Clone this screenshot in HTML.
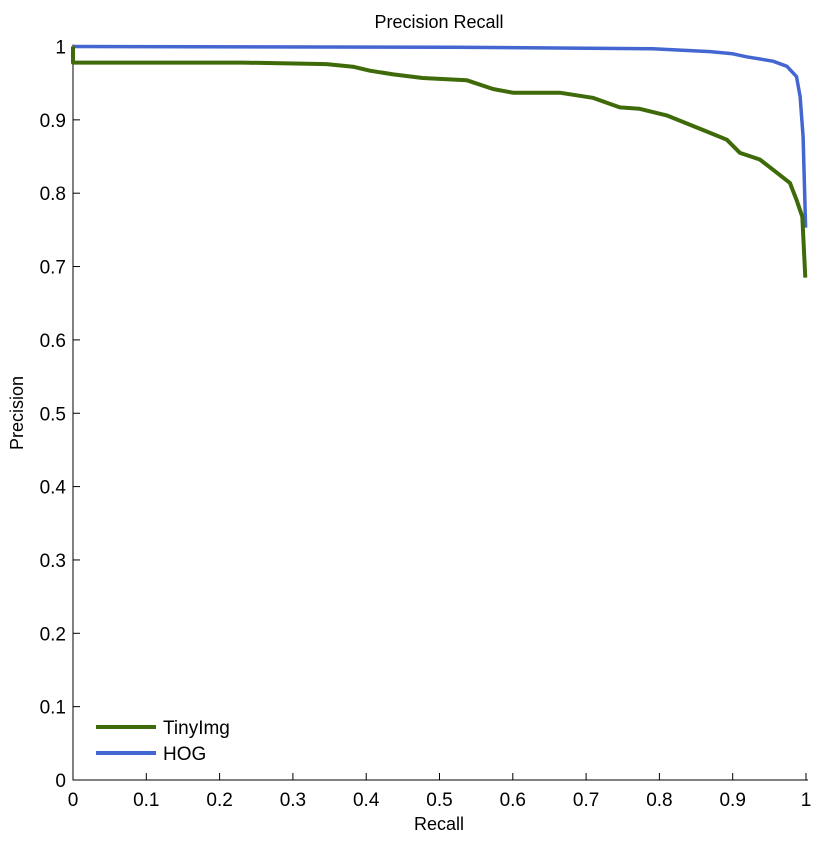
<!DOCTYPE html>
<html><head><meta charset="utf-8"><style>
body{margin:0;background:#fff;}
svg text{font-family:"Liberation Sans",Helvetica,sans-serif;fill:#000;}
</style></head><body>
<svg id="chart" width="820" height="839" viewBox="0 0 820 839" xmlns="http://www.w3.org/2000/svg">
<text x="439" y="28" font-size="18" text-anchor="middle">Precision Recall</text>
<text x="439" y="830" font-size="18" text-anchor="middle">Recall</text>
<text transform="translate(23,413) rotate(-90)" font-size="18" text-anchor="middle">Precision</text>
<g id="axes"></g>
<g id="series"></g>
<g id="legend"></g>
</svg>
<script>
const xTicks=[0,0.1,0.2,0.3,0.4,0.5,0.6,0.7,0.8,0.9,1];
const yTicks=[0,0.1,0.2,0.3,0.4,0.5,0.6,0.7,0.8,0.9,1];
const tinyRecall=[0,0,0.232,0.346,0.382,0.405,0.437,0.477,0.537,0.573,0.6,0.664,0.709,0.746,0.773,0.81,0.865,0.892,0.91,0.937,0.955,0.978,0.987,0.995,0.999];
const tinyPrec=[1,0.978,0.978,0.976,0.9725,0.967,0.962,0.957,0.954,0.942,0.937,0.937,0.93,0.917,0.915,0.906,0.884,0.873,0.855,0.846,0.832,0.814,0.791,0.768,0.685];
const hogRecall=[0,0.518,0.791,0.869,0.9,0.919,0.955,0.974,0.987,0.992,0.996,0.9995];
const hogPrec=[1,0.999,0.997,0.993,0.99,0.986,0.98,0.973,0.959,0.932,0.877,0.753];
const X0=73,X1=806,Y0=780,Y1=46.5;
const sx=v=>X0+(X1-X0)*v, sy=v=>Y0-(Y0-Y1)*v;
const NS="http://www.w3.org/2000/svg";
function mk(t,a,p){const e=document.createElementNS(NS,t);for(const k in a)e.setAttribute(k,a[k]);p.appendChild(e);return e;}
const axes=document.getElementById('axes');
let e=mk('path',{d:`M${X0},${Y1-2}V${Y0}H${X1+2}`,fill:'none',stroke:'#000','stroke-width':1},axes);


xTicks.forEach(v=>{
 let t=mk('line',{x1:sx(v),x2:sx(v),y1:Y0,y2:Y0-7,stroke:'#000'},axes);
 
 
 let l=mk('text',{x:sx(v),y:Y0+26,'font-size':19,'text-anchor':'middle'},axes);l.textContent=String(v);
 
 
});
yTicks.forEach(v=>{
 let t=mk('line',{x1:X0,x2:X0+7,y1:sy(v),y2:sy(v),stroke:'#000'},axes);
 
 
 let l=mk('text',{x:X0-7,y:sy(v)+7,'font-size':19,'text-anchor':'end'},axes);l.textContent=String(v);
 
 
});
const ser=document.getElementById('series');
function line(xs,ys,c,w,name){
 let d=xs.map((x,i)=>(i?'L':'M')+sx(x).toFixed(1)+','+sy(ys[i]).toFixed(1)).join('');
 let p=mk('path',{d:d,fill:'none',stroke:c,'stroke-width':w,'stroke-linejoin':'round'},ser);
 
 
}
line(hogRecall,hogPrec,'#4466d0',3.5,'hog-line');
line(tinyRecall,tinyPrec,'#3f6a0a',4,'tinyimg-line');
const lg=document.getElementById('legend');
[['TinyImg','#3f6a0a',727,'legend-entry-tinyimg'],['HOG','#4466d0',753,'legend-entry-hog']].forEach(([n,c,y,dn])=>{
 let g=mk('g',{},lg);
 
 
 mk('line',{x1:96,x2:156,y1:y,y2:y,stroke:c,'stroke-width':4},g);
 let t=mk('text',{x:163,y:y+7,'font-size':19},g);t.textContent=n;
});
</script>
</body></html>
